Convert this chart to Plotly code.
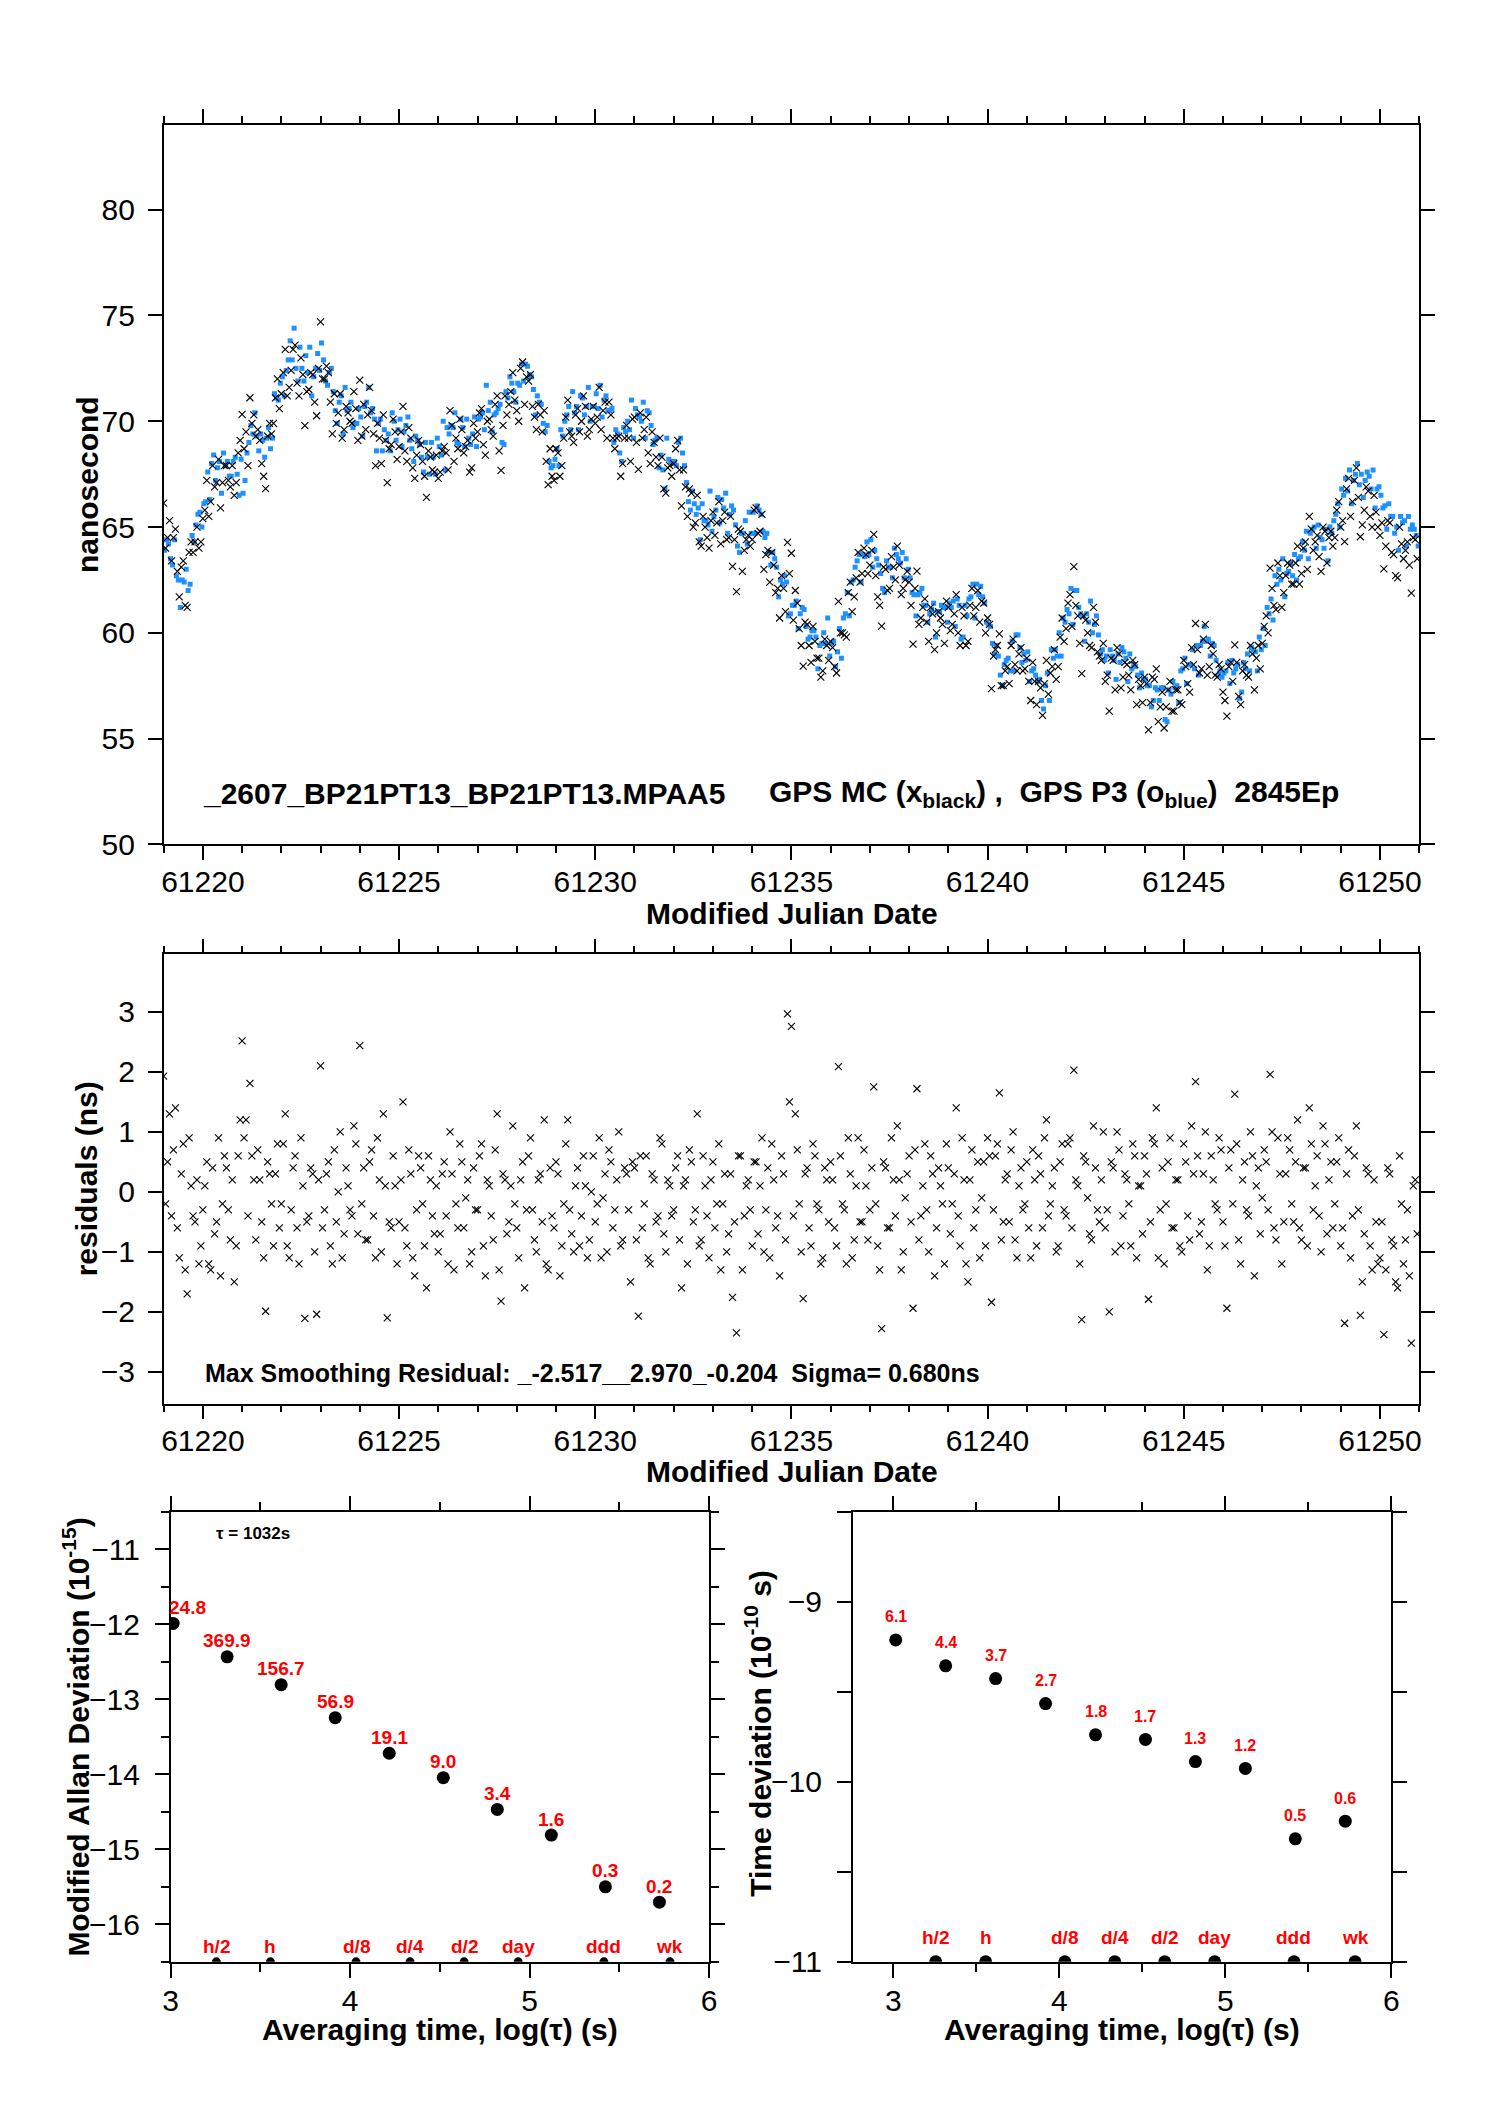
import numpy as np
import plotly.graph_objects as go

FONT = "Liberation Sans, Arial, Helvetica, sans-serif"
W, H = 1488, 2105

# ---- data: clock offsets, epochs every 0.1 day from MJD 61219.0
mjd = np.linspace(61219.0, 61250.9, 320)

smooth_ns = [
    64.2, 64.0, 63.8, 63.5, 62.8, 62.6, 62.9, 64.2, 64.8, 65.2,
    65.7, 66.7, 67.5, 67.6, 67.3, 67.3, 67.5, 67.7, 68.0, 67.9,
    67.8, 68.3, 69.3, 70.1, 68.9, 68.5, 68.8, 69.6, 70.8, 71.2,
    71.5, 72.1, 72.7, 73.0, 72.4, 72.1, 71.9, 71.9, 71.9, 72.3,
    72.6, 72.3, 71.8, 70.6, 70.4, 70.3, 70.3, 70.3, 70.3, 69.8,
    69.5, 70.4, 71.1, 69.8, 69.0, 69.0, 69.0, 69.2, 69.5, 69.4,
    69.3, 69.2, 69.0, 68.9, 68.7, 68.5, 68.3, 68.0, 68.1, 68.3,
    68.3, 68.3, 68.9, 69.5, 69.4, 69.3, 69.1, 68.9, 68.8, 69.5,
    69.8, 69.8, 69.8, 70.0, 70.1, 69.9, 69.5, 71.0, 71.3, 71.2,
    71.1, 72.3, 72.4, 71.3, 71.0, 70.6, 70.0, 69.3, 68.3, 67.8,
    68.2, 68.8, 69.4, 69.8, 70.0, 70.2, 70.4, 70.6, 70.4, 70.1,
    70.4, 70.7, 70.6, 70.2, 69.8, 69.0, 68.3, 68.8, 69.5, 69.6,
    69.8, 69.8, 69.8, 69.6, 69.2, 68.8, 68.3, 67.5, 67.6, 67.8,
    68.3, 68.5, 67.6, 66.7, 66.1, 65.5, 65.2, 64.9, 64.9, 65.1,
    65.2, 65.4, 65.5, 65.4, 65.2, 64.9, 64.3, 64.2, 64.3, 64.4,
    65.3, 65.4, 64.7, 64.0, 63.5, 63.0, 62.5, 62.1, 61.8, 61.3,
    61.0, 60.7, 60.4, 60.2, 60.0, 59.5, 59.0, 59.1, 59.3, 59.2,
    59.1, 59.0, 59.4, 60.2, 61.0, 62.1, 62.5, 62.9, 63.3, 63.6,
    63.5, 62.9, 62.6, 62.6, 62.6, 62.7, 62.9, 63.0, 63.1, 62.6,
    61.8, 61.4, 61.2, 61.1, 60.8, 60.6, 60.6, 60.6, 60.6, 60.7,
    60.8, 60.6, 60.4, 60.3, 60.6, 61.1, 61.4, 61.5, 61.6, 60.9,
    59.8, 59.2, 58.6, 58.3, 58.0, 58.1, 58.7, 59.3, 58.9, 58.5,
    58.3, 57.9, 57.5, 57.1, 56.7, 57.5, 58.3, 58.8, 59.3, 59.9,
    60.6, 60.9, 61.1, 60.7, 60.2, 60.1, 60.1, 60.1, 59.4, 58.5,
    58.3, 58.3, 58.3, 58.3, 58.3, 58.3, 58.2, 57.9, 57.7, 57.4,
    57.3, 57.2, 57.0, 56.9, 56.8, 56.7, 56.8, 56.9, 57.1, 57.6,
    57.9, 58.0, 58.2, 58.6, 58.8, 59.4, 59.3, 58.8, 58.2, 57.6,
    57.7, 58.0, 57.9, 57.8, 57.8, 58.0, 58.3, 58.4, 58.7, 59.0,
    59.6, 60.3, 61.1, 61.9, 62.4, 62.4, 62.4, 62.5, 62.8, 62.9,
    63.6, 63.9, 64.1, 64.2, 64.0, 63.9, 64.0, 64.3, 64.7, 65.3,
    65.9, 66.5, 66.6, 66.6, 66.7, 66.6, 66.5, 66.4, 66.3, 66.2,
    65.7, 65.4, 64.9, 64.6, 64.2, 64.4, 64.7, 64.6, 64.4, 64.2,
]

# smoothing residuals of GPS MC (ns) at the epochs above
resid_a = [
    1.93, 0.5, -0.4, 1.4, -1.1, 0.8, -1.70, 0.1, -0.5, -1.2,
    -0.3, 0.5, -1.3, -0.7, 0.9, -0.2, 0.4, -0.8, -1.5, 0.6,
    2.52, 1.2, 1.81, 0.2, 0.7, -0.5, -1.99, 0.3, -0.9, 0.8,
    -0.2, 1.3, -1.1, 0.4, -0.6, 0.9, -2.11, -0.4, 0.3, -2.04,
    2.10, -0.3, 0.5, -1.2, -0.5, 1.0, -0.7, 0.1, -0.4, 0.8,
    2.44, 0.4, -0.8, 0.7, -1.1, 0.2, 1.3, -2.10, -0.6, 0.1,
    -0.5, 1.5, -0.9, 0.3, -1.4, 0.6, -0.2, -1.6, 0.2, -0.7,
    -1.0, 0.3, -0.4, 1.0, -1.3, -0.6, 0.5, -0.1, -1.2, 0.4,
    -0.3, 0.8, -1.4, 0.1, -0.8, 1.3, -1.82, 0.2, -0.5, 1.1,
    -0.6, 0.2, -1.6, 0.6, -0.3, -1.0, 0.3, 1.2, -1.3, -0.4,
    0.5, -1.4, -0.2, 1.2, -0.7, 0.1, -0.9, 0.6, -1.1, 0.0,
    -0.5, 0.9, -0.1, -1.0, 0.5, -0.3, 1.0, -0.8, 0.3, -1.5,
    0.4, -2.07, -0.6, 0.6, -1.2, 0.2, -0.4, 0.8, -1.0, 0.1,
    -0.3, 0.6, -1.6, 0.2, 0.7, -0.5, 1.3, -0.8, 0.1, -1.1,
    0.5, -0.2, -1.3, 0.3, -0.7, -1.76, -2.35, 0.6, -0.4, 0.2,
    -0.9, 0.5, 0.1, -1.0, 0.4, 0.8, -0.6, -1.4, 0.3, 2.97,
    2.76, 1.3, -0.2, -1.78, 0.4, -0.9, 0.6, -0.3, -1.1, 0.2,
    0.5, -0.6, 2.09, -0.2, -1.2, 0.3, -0.8, 0.9, -0.5, 0.1,
    -0.3, 1.75, -0.9, -2.28, 0.4, -0.6, 0.2, 1.1, -1.3, -0.1,
    0.6, -1.94, 1.72, -0.4, 0.8, -1.0, 0.3, -0.6, 0.1, -1.2,
    0.4, -0.2, 1.4, -0.9, 0.2, -1.5, 0.7, -0.3, -1.1, 0.5,
    0.9, -1.84, 0.6, 1.65, -0.5, 0.3, 0.7, -0.8, 0.1, -0.3,
    0.5, -1.1, 0.2, 0.6, -0.6, 1.2, -0.2, 0.4, -0.9, 0.8,
    -0.4, 0.9, 2.03, 0.1, -2.13, 0.5, -0.7, 1.1, -0.3, 0.2,
    -0.6, -2.00, 0.4, 1.0, -0.9, 0.3, -0.2, 0.8, -1.1, 0.1,
    0.6, -1.79, 0.9, 1.4, -0.3, -1.2, 0.5, -0.6, 0.2, -0.9,
    0.8, -0.4, 1.1, 1.84, -0.7, 0.3, -1.3, 0.6, -0.2, 0.9,
    -0.5, -1.94, 0.7, 1.63, -0.8, 0.2, -0.3, 1.0, -1.4, 0.4,
    -0.1, 0.5, 1.96, -0.6, 0.9, -1.2, 0.3, 0.7, -0.5, 1.2,
    -0.8, 0.4, 1.4, -0.3, 0.6, -1.0, 0.8, 0.2, -0.6, 0.5,
    -0.9, -2.19, 0.7, -0.4, 1.1, -2.06, -0.7, 0.3, -1.3, -0.5,
    -1.1, -2.38, 0.4, -0.8, -1.5, 0.6, -1.2, -0.3, -2.52, 0.2,
]

# residuals at the in-between epochs (+0.05 day)
resid_b = [
    -0.2, 1.3, 0.7, -0.6, 0.3, -1.3, 0.9, -0.4, 0.2, -0.9,
    0.1, -1.2, 0.4, -0.5, -1.4, 0.6, -0.3, 0.2, -0.9, 1.2,
    0.9, -0.4, 0.6, -0.8, 0.2, -1.1, 0.5, -0.2, 0.3, -0.6,
    0.8, -0.9, -0.3, 0.6, -1.2, 0.1, -0.5, 0.4, -1.0, 0.2,
    -0.6, 0.3, -0.9, 0.7, 0.0, -1.1, 0.4, -0.3, 1.1, -0.7,
    -0.2, -0.8, 0.5, -0.4, 0.9, -1.0, 0.1, -0.5, 0.6, -1.2,
    0.2, -0.6, 0.7, -1.1, -0.3, 0.4, -0.9, 0.6, -0.4, 0.1,
    -0.7, 0.5, -1.2, 0.3, -0.2, 0.8, -0.6, 0.2, -1.0, -0.3,
    0.6, -0.9, 0.2, -0.4, 0.7, -1.3, 0.3, -0.7, 0.1, -0.2,
    -1.1, 0.5, -0.3, 0.9, -0.8, 0.2, -0.5, -1.2, 0.4, -0.6,
    0.3, -0.9, 0.8, -0.3, -1.0, 0.4, -0.4, 0.1, -0.8, 0.6,
    -0.2, -1.1, 0.3, 0.7, -0.6, 0.2, -0.9, 0.4, -0.3, 0.5,
    -0.8, 0.6, -0.2, -1.1, 0.3, -0.5, 0.9, -0.7, 0.2, -0.4,
    0.4, -0.8, 0.1, -1.2, 0.5, -0.3, -0.9, 0.6, -0.4, 0.2,
    -0.6, 0.8, -0.2, -1.0, 0.3, -0.5, 0.6, -1.3, 0.1, -0.3,
    0.5, -0.7, 0.9, -0.3, -1.1, 0.2, -0.4, 0.6, -0.8, 1.5,
    -0.4, 0.7, -1.0, 0.3, -0.6, 0.8, -0.2, -1.2, 0.4, -0.5,
    0.2, -0.9, 0.6, -0.3, 0.9, -1.1, 0.1, -0.5, 0.7, -0.8,
    0.4, -0.2, -1.3, 0.5, -0.6, 0.9, -0.4, 0.2, -1.0, 0.3,
    -0.5, 0.7, -0.8, 0.1, -0.3, 0.6, -1.4, 0.4, -0.2, 0.8,
    -0.7, 0.3, -0.4, 0.9, -1.2, 0.2, -0.6, 0.5, -0.1, -0.9,
    0.6, -0.3, 0.8, -0.8, 0.2, -0.5, 1.0, -1.1, 0.4, -0.2,
    -0.6, 0.7, -0.9, 0.3, 0.9, -0.4, 0.1, -1.0, 0.5, -0.3,
    0.8, -0.6, 0.2, -1.2, 0.6, -0.1, -0.8, 0.4, -0.5, 1.0,
    -0.3, 0.5, -1.0, 0.7, -0.4, 0.2, -0.9, 0.6, 0.1, -0.7,
    0.3, -0.5, 0.8, -1.1, 0.4, -0.2, 0.9, -0.6, 0.2, -1.0,
    0.5, -0.8, 0.3, 0.6, -0.5, 1.0, -0.9, 0.2, -0.3, 0.7,
    -0.9, 0.4, -0.2, 0.8, -1.2, 0.5, -0.4, 0.6, 0.1, -0.7,
    0.7, -0.3, 1.0, -0.8, 0.3, -0.5, 0.9, -0.2, 0.5, -0.6,
    0.4, -0.9, 0.8, 0.1, -0.4, 1.1, -0.7, 0.5, -0.2, 0.9,
    -0.6, 0.3, -1.1, 0.6, -0.3, -1.5, 0.4, -0.9, 0.2, -1.2,
    -0.5, -1.3, 0.3, -0.9, -1.6, -0.2, -0.8, -1.4, 0.1, -0.7,
]

# GPS P3 departures from the smooth curve (ns), epochs +0.025 and +0.075 day
p3_dev_a = [
    -0.3, 0.2, -0.6, -0.8, -1.6, -0.2, -0.9, 0.4, 0.3, 0.5,
    0.4, 0.9, 0.5, -0.4, 0.8, 1.2, 0.6, -0.3, 0.3, -1.4,
    -1.2, 0.2, 0.5, 0.3, -0.3, 0.6, 0.4, -0.9, 0.5, -0.2,
    0.6, 0.3, 1.1, 1.4, -0.5, 0.4, 1.2, 1.6, 0.2, 0.9,
    1.1, -0.4, 0.5, 0.8, -0.5, 0.9, 1.3, 0.3, -0.6, 0.1,
    0.7, 0.3, 0.5, 0.8, -0.4, 1.1, 0.6, 0.2, 0.9, -0.3,
    0.8, 0.3, 1.2, -0.2, 0.6, 0.4, -0.7, 0.3, 0.9, -0.8,
    0.5, 1.7, 0.8, 0.3, 1.0, -0.4, 0.6, 1.2, 0.1, 0.7,
    0.3, 0.6, 1.9, 0.9, 0.2, 0.7, -0.5, 0.4, 0.8, 0.2,
    0.7, 0.4, 0.3, 0.9, 0.5, 0.6, 0.8, 0.2, -0.2, 0.1,
    0.5, 0.8, 0.6, 0.9, 1.4, 0.5, 0.8, -0.3, 1.2, 0.6,
    0.9, 1.0, 0.4, 0.3, 0.8, 0.6, 0.2, 0.9, 0.5, 1.4,
    0.8, 0.4, 1.1, 0.9, 0.6, 0.3, -0.5, 0.2, 1.6, 0.3,
    -0.2, 0.5, 0.9, 0.4, -0.3, 0.6, 0.7, 1.2, 0.4, 1.6,
    0.3, 1.0, 0.8, 1.2, 0.4, 0.9, -0.2, 0.5, 1.0, 1.3,
    0.4, 0.6, 0.9, 0.5, 0.3, 0.8, 0.6, 0.4, 0.9, -0.5,
    0.3, 0.8, 0.5, 0.9, -0.3, 0.6, 0.8, 0.3, 0.7, 1.5,
    0.4, -0.6, 0.8, 0.5, 0.9, 0.3, 0.6, 0.8, 0.4, 0.7,
    0.9, 1.0, 0.6, -0.5, 0.8, 0.4, 1.1, 0.5, 0.7, 0.9,
    0.8, 0.4, 0.6, 1.0, 0.5, 0.3, 0.8, 0.4, 0.7, 0.5,
    0.6, 0.9, 1.2, -0.6, 0.7, 0.5, 0.9, 0.8, 0.6, 0.5,
    0.6, 0.3, 0.8, -0.3, 0.5, 0.7, 0.9, 0.6, 0.4, 0.5,
    0.8, 0.3, 0.5, 0.7, -0.3, 0.6, 0.9, 0.4, 0.7, 0.8,
    0.5, 1.2, 0.9, 0.5, 0.6, 0.8, 1.4, 0.3, 0.5, 0.7,
    0.6, 0.9, 0.4, 0.7, 1.0, 0.5, 0.8, 0.6, 0.3, 0.7,
    0.5, 0.3, -0.2, 0.4, 0.6, -0.8, 0.5, 0.8, 0.4, 0.6,
    0.9, 0.5, 1.0, 0.8, 0.6, 0.9, 0.4, 0.7, 0.5, 0.6,
    0.4, 0.6, 0.8, 0.5, -0.9, 0.6, 0.7, 0.9, 0.4, 0.8,
    0.6, 0.9, 0.5, 0.8, 0.6, 1.1, 0.4, 0.8, 0.9, 0.6,
    0.7, 0.9, 0.6, 0.8, 1.1, 0.5, 0.9, 0.7, 0.6, 0.8,
    0.9, 0.8, 1.1, 0.6, 1.3, 0.9, 0.7, 1.0, 1.4, 0.6,
    0.8, 0.6, 1.2, 0.9, 0.8, 1.1, 0.6, 0.9, 0.7, 0.4,
]

p3_dev_b = [
    0.2, -0.5, 0.6, -1.0, -0.3, 0.4, -0.6, 0.1, 0.8, -0.2,
    0.5, -0.4, 0.9, 0.2, -0.7, 0.6, -0.1, 0.4, -0.5, 0.3,
    -0.6, 0.7, 0.1, -0.8, 0.5, -0.2, 0.9, -0.4, 0.3, 0.6,
    -0.3, 0.8, 0.2, -0.5, 1.1, -0.2, 0.4, -0.7, 0.6, 0.1,
    0.3, -0.6, 0.7, -0.1, 0.5, -0.9, 0.2, 0.6, -0.4, 0.8,
    -0.2, 0.5, -0.7, 0.3, 0.9, -0.4, 0.1, -0.6, 0.5, 0.2,
    -0.5, 0.6, 0.1, -0.8, 0.4, -0.2, 0.7, -0.5, 0.2, 0.9,
    0.1, -0.6, 0.5, 0.2, -0.4, 0.8, -0.3, 0.3, 0.6, -0.7,
    0.4, -0.2, 0.7, -0.5, 0.3, 0.9, -0.6, 0.1, 0.5, -0.3,
    0.6, -0.4, 0.2, 0.8, -0.7, 0.3, -0.1, 0.5, -0.5, 0.4,
    -0.3, 0.5, 0.9, -0.2, 0.4, -0.6, 0.7, 0.1, -0.4, 0.6,
    0.2, -0.5, 0.6, 0.3, -0.8, 0.4, -0.2, 0.7, 0.1, -0.4,
    0.5, 0.2, -0.6, 0.8, -0.3, 0.4, 0.1, -0.7, 0.6, 0.2,
    -0.4, 0.7, 0.3, -0.5, 0.6, 0.1, -0.8, 0.4, 0.2, -0.3,
    0.6, -0.2, 0.4, -0.7, 0.8, 0.2, -0.5, 0.5, -0.1, 0.3,
    -0.6, 0.4, 0.1, 0.7, -0.3, 0.5, -0.8, 0.2, 0.6, -0.4,
    0.3, -0.5, 0.8, 0.1, -0.2, 0.6, -0.7, 0.4, 0.2, -0.3,
    0.5, 0.1, -0.6, 0.7, -0.2, 0.4, 0.9, -0.5, 0.3, 0.1,
    -0.4, 0.6, 0.2, -0.7, 0.5, -0.1, 0.8, 0.3, -0.5, 0.4,
    0.1, -0.6, 0.7, 0.2, -0.3, 0.5, -0.8, 0.4, 0.6, -0.2,
    0.4, -0.3, 0.9, -0.5, 0.2, 0.6, -0.7, 0.3, 0.1, -0.4,
    0.5, -0.2, 0.3, -0.8, 0.7, 0.1, -0.5, 0.6, -0.3, 0.2,
    -0.6, 0.4, 0.2, -0.3, 0.8, -0.7, 0.5, 0.1, -0.4, 0.6,
    0.3, -0.5, 0.9, 0.2, -0.6, 0.4, -0.1, 0.7, -0.4, 0.2,
    -0.2, 0.6, -0.5, 0.3, 0.8, -0.6, 0.1, 0.5, -0.3, 0.4,
    0.2, -0.7, 0.4, -0.1, 0.6, -0.9, 0.3, 0.5, -0.4, 0.7,
    -0.3, 0.5, 0.1, -0.6, 0.8, 0.2, -0.4, 0.6, -0.2, 0.3,
    0.5, -0.4, 0.2, 0.7, -0.6, 0.3, -0.1, 0.8, -0.5, 0.2,
    -0.2, 0.6, -0.5, 0.4, 0.1, -0.7, 0.5, 0.2, -0.3, 0.7,
    0.3, -0.4, 0.8, -0.2, 0.5, 0.1, -0.6, 0.4, 0.9, -0.3,
    0.6, 0.2, -0.5, 0.9, 0.3, -0.2, 1.1, 0.4, -0.4, 0.7,
    0.2, -0.5, 0.6, 0.1, -0.3, 0.8, -0.6, 0.3, 0.5, -0.1,
]

smooth = np.array(smooth_ns)
mc_x = np.concatenate([mjd, mjd + 0.05])
resid = np.concatenate([resid_a, resid_b])
mc_ns = np.concatenate([smooth + np.array(resid_a), smooth + np.array(resid_b)])
p3_x = np.concatenate([mjd + 0.025, mjd + 0.075])
p3_ns = np.concatenate([smooth + np.array(p3_dev_a), smooth + np.array(p3_dev_b)])

# ---- stability
log_tau = [3.014, 3.315, 3.616, 3.917, 4.218, 4.519, 4.820, 5.121, 5.422, 5.723]
log_mdev = [-11.99, -12.435, -12.806, -13.245, -13.72, -14.045, -14.469, -14.81, -15.50, -15.705]
mdev_labels = ["24.8", "369.9", "156.7", "56.9", "19.1", "9.0", "3.4", "1.6", "0.3", "0.2"]
log_tdev = [-9.2125, -9.356, -9.427, -9.566, -9.739, -9.765, -9.888, -9.926, -10.317, -10.219]
tdev_labels = ["6.1", "4.4", "3.7", "2.7", "1.8", "1.7", "1.3", "1.2", "0.5", "0.6"]
span_names = ["h/2", "h", "d/8", "d/4", "d/2", "day", "ddd", "wk"]
span_log_tau = [3.255, 3.556, 4.033, 4.334, 4.635, 4.936, 5.414, 5.782]
span_mdev_row = [-16.5] * 8
span_tdev_row = [-11.0] * 8

# page positions below are measured on the reference picture; the photographed
# page comes out about 0.8 % larger, so positions are stretched to match
SCALE = 1.0081
XOFF = -6


def px(v):
    return (SCALE * v + XOFF) / W


def py(v):
    return 1 - SCALE * v / H


def axis(**kw):
    a = dict(showline=True, linecolor="black", linewidth=1.5, mirror="ticks",
             ticks="outside", ticklen=14, tickwidth=2, tickcolor="black",
             showgrid=False, zeroline=False,
             tickfont=dict(family=FONT, size=30, color="black"))
    a.update(kw)
    return a


fig = go.Figure()

fig.add_trace(go.Scatter(x=p3_x, y=p3_ns, mode="markers", xaxis="x", yaxis="y",
                         marker=dict(symbol="square", size=5, color="#1E90FF",
                                     line=dict(width=0))))
fig.add_trace(go.Scatter(x=mc_x, y=mc_ns, mode="markers", xaxis="x", yaxis="y",
                         marker=dict(symbol="x-thin", size=7, color="black",
                                     line=dict(width=1.1, color="black"))))
fig.add_trace(go.Scatter(x=mc_x, y=resid, mode="markers", xaxis="x2", yaxis="y2",
                         marker=dict(symbol="x-thin", size=7, color="black",
                                     line=dict(width=1.1, color="black"))))

fig.add_trace(go.Scatter(x=log_tau, y=log_mdev, mode="markers", xaxis="x3", yaxis="y3",
                         marker=dict(size=13, color="black")))
fig.add_trace(go.Scatter(x=span_log_tau, y=span_mdev_row, mode="markers", xaxis="x3", yaxis="y3",
                         marker=dict(size=9, color="black")))
fig.add_trace(go.Scatter(x=log_tau, y=log_tdev, mode="markers", xaxis="x4", yaxis="y4",
                         marker=dict(size=13, color="black")))
fig.add_trace(go.Scatter(x=span_log_tau, y=span_tdev_row, mode="markers", xaxis="x4", yaxis="y4",
                         marker=dict(size=13, color="black")))

mjd_minor = dict(dtick=1, ticklen=7, tickwidth=2, tickcolor="black", ticks="outside")
half_minor = dict(dtick=0.5, ticklen=8, tickwidth=2, tickcolor="black", ticks="outside")

top_dom = [px(162), px(1421)]
bot_dom = [py(1961), py(1511)]

fig.update_layout(
    width=W, height=H, margin=dict(l=0, r=0, t=0, b=0),
    paper_bgcolor="white", plot_bgcolor="white", showlegend=False,
    font=dict(family=FONT, color="black"),
    xaxis=axis(domain=top_dom, anchor="y", range=[61219, 61251], dtick=5, tick0=61220,
               tickformat="d", minor=mjd_minor, ticklabelstandoff=-4),
    yaxis=axis(domain=[py(844), py(125)], anchor="x", range=[50, 84], dtick=5, tick0=50,
               ticklabelstandoff=7),
    xaxis2=axis(domain=top_dom, anchor="y2", range=[61219, 61251], dtick=5, tick0=61220,
                tickformat="d", minor=mjd_minor, ticklabelstandoff=-4),
    yaxis2=axis(domain=[py(1403), py(954)], anchor="x2", range=[-3.53, 3.96], dtick=1, tick0=0,
                ticklabelstandoff=7),
    xaxis3=axis(domain=[px(169), px(709)], anchor="y3", range=[3, 6], dtick=1, tick0=3,
                minor=half_minor, ticklabelstandoff=-3),
    yaxis3=axis(domain=bot_dom, anchor="x3", range=[-16.5, -10.5], dtick=1, tick0=-16,
                minor=half_minor, ticklabelstandoff=9),
    xaxis4=axis(domain=[px(853), px(1393)], anchor="y4", range=[2.755, 6], dtick=1, tick0=3,
                minor=half_minor, ticklabelstandoff=-3),
    yaxis4=axis(domain=bot_dom, anchor="x4", range=[-11, -8.5], dtick=1, tick0=-11,
                ticklabelstandoff=9,
                minor=dict(dtick=0.5, ticklen=14, tickwidth=2, tickcolor="black", ticks="outside")),
)

ann = []


def note(text, x, y, size=30, angle=0, xanchor="center", color="black"):
    ann.append(dict(text=text, x=px(x), y=py(y), xref="paper", yref="paper",
                    showarrow=False, textangle=angle, xanchor=xanchor, yanchor="middle",
                    font=dict(family=FONT, size=size, color=color)))


note("<b>nanosecond</b>", 85, 484, angle=-90)
note("<b>Modified Julian Date</b>", 792, 913)
note("<b>_2607_BP21PT13_BP21PT13.MPAA5</b>", 199, 793, xanchor="left")
note("<b>GPS MC (x<sub>black</sub>) ,\u00a0\u00a0GPS P3 (o<sub>blue</sub>)\u00a0\u00a02845Ep</b>",
     767, 793, xanchor="left")
note("<b>residuals (ns)</b>", 85, 1178, angle=-90)
note("<b>Modified Julian Date</b>", 792, 1471)
note("<b>Max Smoothing Residual: _-2.517__2.970_-0.204\u00a0\u00a0Sigma= 0.680ns</b>",
     201, 1372, size=25, xanchor="left")
note("<b>Modified Allan Deviation (10<sup>-15</sup>)</b>", 74, 1736, angle=-90)
note("<b>Averaging time, log(τ) (s)</b>", 439, 2029)
note("<b>Time deviation (10<sup>-10</sup> s)</b>", 758, 1732, angle=-90)
note("<b>Averaging time, log(τ) (s)</b>", 1123, 2029)
note("<b>τ = 1032s</b>", 213, 1533, size=17, xanchor="left")

for i, (xv, yv, lab) in enumerate(zip(log_tau, log_mdev, mdev_labels)):
    ann.append(dict(text="<b>%s</b>" % lab, x=xv, y=yv, xref="x3", yref="y3", showarrow=False,
                    yshift=16, xanchor="left" if i == 0 else "center",
                    xshift=-6 if i == 0 else 0,
                    font=dict(family=FONT, size=19, color="red")))
for xv, yv, lab in zip(log_tau, log_tdev, tdev_labels):
    ann.append(dict(text="<b>%s</b>" % lab, x=xv, y=yv, xref="x4", yref="y4", showarrow=False,
                    yshift=23, font=dict(family=FONT, size=16, color="red")))
for xv, yv, lab in zip(span_log_tau, span_mdev_row, span_names):
    ann.append(dict(text="<b>%s</b>" % lab, x=xv, y=yv, xref="x3", yref="y3", showarrow=False,
                    yshift=15, font=dict(family=FONT, size=19, color="red")))
for xv, yv, lab in zip(span_log_tau, span_tdev_row, span_names):
    ann.append(dict(text="<b>%s</b>" % lab, x=xv, y=yv, xref="x4", yref="y4", showarrow=False,
                    yshift=24, font=dict(family=FONT, size=19, color="red")))

fig.update_layout(annotations=ann)

fig.write_html("out.html", config={"responsive": False, "displayModeBar": False},
               post_script="document.body.style.margin='0';document.body.style.overflow='hidden';")
